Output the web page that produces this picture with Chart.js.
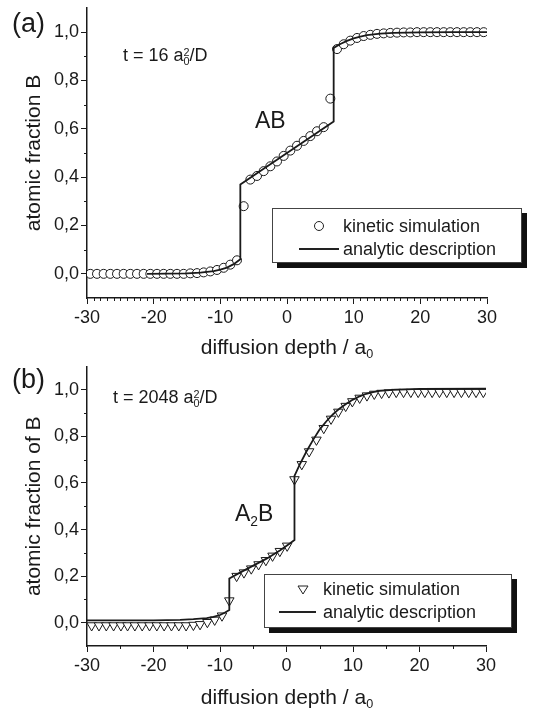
<!DOCTYPE html>
<html>
<head>
<meta charset="utf-8">
<script src="https://cdn.jsdelivr.net/npm/chart.js@4"></script>
<style>
body { margin:0; background:#fff; }
#wrap { position:relative; width:545px; height:712px; font-family:"Liberation Sans", Arial, sans-serif; color:#1a1a1a; overflow:hidden; }
canvas { position:absolute; left:0; }
.lbl { position:absolute; line-height:1; white-space:nowrap; }
.lbl sub, .lbl sup { font-size:0.6em; line-height:0; }
.lbl sub { vertical-align:-0.35em; }
.lbl sup { vertical-align:0.5em; }
.lbl sup.stk { margin-left:-0.556em; }
.xt { width:400px; text-align:center; font-size:21px; }
.leg { position:absolute; background:#fff; border:1px solid #444; box-shadow:5px 5px 0 #111; box-sizing:border-box; }
.leg .txt { position:absolute; font-size:18px; line-height:1; white-space:nowrap; }
.leg svg { position:absolute; left:0; top:0; overflow:visible; }
</style>
</head>
<body>
<div id="wrap">
  <canvas id="chartA" width="545" height="360" style="top:0"></canvas>
  <canvas id="chartB" width="545" height="352" style="top:360px"></canvas>

  <div class="lbl" style="left:12px;top:10px;font-size:27px">(a)</div>
  <div class="lbl" style="left:123px;top:46px;font-size:18px">t = 16 a<sub>0</sub><sup class="stk">2</sup>/D</div>
  <div class="lbl" style="left:255px;top:109px;font-size:23px">AB</div>
  <div class="lbl xt" style="left:87px;top:336px">diffusion depth / a<sub>0</sub></div>

  <div class="lbl" style="left:12px;top:366px;font-size:27px">(b)</div>
  <div class="lbl" style="left:113px;top:388px;font-size:18px">t = 2048 a<sub>0</sub><sup class="stk">2</sup>/D</div>
  <div class="lbl" style="left:235px;top:502px;font-size:23px">A<sub>2</sub>B</div>
  <div class="lbl xt" style="left:87px;top:686px">diffusion depth / a<sub>0</sub></div>

  <div class="leg" style="left:272px;top:208px;width:250px;height:55px">
    <svg width="250" height="55">
      <circle cx="46" cy="17" r="4.5" fill="#fff" stroke="#222" stroke-width="1"></circle>
      <line x1="26" y1="40" x2="66" y2="40" stroke="#222" stroke-width="1.8"></line>
    </svg>
    <div class="txt" style="left:70px;top:8px">kinetic simulation</div>
    <div class="txt" style="left:70px;top:31px">analytic description</div>
  </div>

  <div class="leg" style="left:264px;top:574px;width:248px;height:54px">
    <svg width="248" height="54">
      <polygon points="33,11 43,11 38,19" fill="#fff" stroke="#222" stroke-width="1"></polygon>
      <line x1="14" y1="37" x2="51" y2="37" stroke="#222" stroke-width="1.8"></line>
    </svg>
    <div class="txt" style="left:58px;top:5px">kinetic simulation</div>
    <div class="txt" style="left:58px;top:28px">analytic description</div>
  </div>
</div>

<script>
// axis ticks
const xTicks = [-30, -20, -10, 0, 10, 20, 30];
const xTickLabels = ['-30', '-20', '-10', '0', '10', '20', '30'];
const yTicks = [0, 0.2, 0.4, 0.6, 0.8, 1.0];
const yTickLabels = ['0,0', '0,2', '0,4', '0,6', '0,8', '1,0'];

// (a) t = 16 a0^2/D, AB phase
const simAx = [-29.5,-28.5,-27.5,-26.5,-25.5,-24.5,-23.5,-22.5,-21.5,-20.5,-19.5,-18.5,-17.5,-16.5,-15.5,
  -14.5,-13.5,-12.5,-11.5,-10.5,-9.5,-8.5,-7.5,-6.5,-5.5,-4.5,-3.5,-2.5,-1.5,-0.5,
  0.5,1.5,2.5,3.5,4.5,5.5,6.5,7.5,8.5,9.5,10.5,11.5,12.5,13.5,14.5,15.5,16.5,
  17.5,18.5,19.5,20.5,21.5,22.5,23.5,24.5,25.5,26.5,27.5,28.5,29.5];
const simAy = [0,0,0,0,0,0,0,0,0,0,0,0,0,0,0,
  0.002,0.003,0.006,0.010,0.016,0.025,0.038,0.056,0.28,0.39,0.405,0.425,0.445,0.465,0.488,
  0.51,0.53,0.55,0.57,0.59,0.607,0.725,0.93,0.95,0.965,0.976,0.984,0.989,0.993,0.995,0.997,0.998,
  0.999,0.999,1,1,1,1,1,1,1,1,1,1,1];
const lineAx = [-21, -18, -15, -13, -11, -10, -9, -8, -7, -7, 7, 7, 8, 9, 10, 11, 12, 14, 16, 20, 25, 30];
const lineAy = [0, 0.001, 0.002, 0.005, 0.011, 0.017, 0.026, 0.04, 0.06, 0.37, 0.63, 0.935, 0.951, 0.964, 0.974, 0.982, 0.988, 0.994, 0.997, 0.999, 1, 1];

// (b) t = 2048 a0^2/D, A2B phase
const simBx = [-29.3,-28.2,-27.1,-26.0,-24.9,-23.9,-22.8,-21.7,-20.6,-19.5,-18.4,-17.3,-16.2,-15.1,
  -14.0,-13.0,-11.9,-10.8,-9.7,-8.6,
  -7.5,-6.4,-5.3,-4.2,-3.1,-2.1,-1.0,0.1,
  1.2,2.3,3.4,4.5,5.6,6.7,7.8,8.9,9.9,11.0,12.1,13.2,14.3,15.4,
  16.5,17.6,18.7,19.8,20.8,21.9,23.0,24.1,25.2,26.3,27.4,28.5,29.6];
const simBy = [-0.012,-0.012,-0.012,-0.012,-0.012,-0.012,-0.012,-0.012,-0.012,-0.012,-0.012,-0.012,-0.012,-0.012,
  -0.01,-0.007,0.002,0.012,0.03,0.095,
  0.2,0.215,0.232,0.25,0.268,0.287,0.307,0.33,
  0.615,0.68,0.735,0.785,0.835,0.875,0.905,0.93,0.95,0.965,0.975,0.982,0.986,0.988,
  0.99,0.99,0.99,0.99,0.99,0.99,0.99,0.99,0.99,0.99,0.99,0.99,0.99];
const lineBx = [-30, -20, -16, -14, -12, -11, -10, -9.3, -8.6, -8.6, -7, -5, -3, -1, 0.5, 1.2, 1.2, 2, 3, 4, 5, 6, 7, 8, 9, 10, 11, 12, 13, 14, 16, 20, 30];
const lineBy = [0.01, 0.01, 0.012, 0.015, 0.02, 0.025, 0.033, 0.043, 0.055, 0.19, 0.215, 0.245, 0.275, 0.31, 0.34, 0.355, 0.63, 0.68, 0.735, 0.785, 0.83, 0.865, 0.895, 0.92, 0.94, 0.958, 0.972, 0.983, 0.99, 0.995, 1.0, 1.004, 1.005];

const ink = '#1a1a1a';
const fam = '"Liberation Sans", Arial, sans-serif';

const pts = (xs, ys) => xs.map((x, i) => ({x: x, y: ys[i]}));

// small ticks between the labelled ones
const minorTicks = {
  id: 'minorTicks',
  afterDraw(chart, args, opts) {
    const ctx = chart.ctx, sx = chart.scales.x, sy = chart.scales.y;
    ctx.save();
    ctx.strokeStyle = ink;
    ctx.lineWidth = 1;
    ctx.beginPath();
    for (let v = -30; v <= 30; v += opts.xStep) {
      if (v % 10 === 0) continue;
      const px = Math.round(sx.getPixelForValue(v)) + 0.5;
      ctx.moveTo(px, sx.top);
      ctx.lineTo(px, sx.top + 3);
    }
    for (let k = 1; k <= 9; k += 2) {
      const py = Math.round(sy.getPixelForValue(k / 10)) + 0.5;
      ctx.moveTo(sy.right, py);
      ctx.lineTo(sy.right - 3, py);
    }
    ctx.stroke();
    ctx.restore();
  }
};

function makeChart(id, simX, simY, lineX, lineY, pointStyle, radius, rot, yTitle, xStep, pad) {
  return new Chart(document.getElementById(id), {
    type: 'scatter',
    data: {
      datasets: [
        {
          label: 'analytic description',
          data: pts(lineX, lineY),
          showLine: true,
          borderColor: ink,
          borderWidth: 1.8,
          pointRadius: 0,
          tension: 0,
          order: 0
        },
        {
          label: 'kinetic simulation',
          data: pts(simX, simY),
          showLine: false,
          pointStyle: pointStyle,
          pointRadius: radius,
          rotation: rot,
          backgroundColor: '#fff',
          borderColor: ink,
          borderWidth: 1,
          order: 1
        }
      ]
    },
    options: {
      responsive: false,
      animation: false,
      devicePixelRatio: 1,
      layout: { padding: pad },
      plugins: {
        legend: { display: false },
        tooltip: { enabled: false },
        minorTicks: { xStep: xStep }
      },
      scales: {
        x: {
          type: 'linear',
          min: -30,
          max: 30,
          afterBuildTicks: s => { s.ticks = xTicks.map(v => ({value: v})) },
          afterFit: s => { s.height = 40 },
          ticks: {
            callback: v => xTickLabels[xTicks.indexOf(v)],
            color: ink,
            font: { family: fam, size: 18 },
            padding: 3,
            maxRotation: 0,
            autoSkip: false
          },
          grid: { drawOnChartArea: false, tickLength: 6, tickColor: ink, tickWidth: 1 },
          border: { color: ink, width: 1.5 }
        },
        y: {
          type: 'linear',
          min: -0.1,
          max: 1.1,
          afterBuildTicks: s => { s.ticks = yTicks.map(v => ({value: v})) },
          afterFit: s => { s.width = 87; s.paddingTop = 0; s.paddingBottom = 0 },
          ticks: {
            callback: v => yTickLabels[yTicks.indexOf(v)],
            color: ink,
            font: { family: fam, size: 18 },
            padding: 2
          },
          title: {
            display: true,
            text: yTitle,
            color: ink,
            font: { family: fam, size: 21 },
            padding: { top: 22, bottom: 0 }
          },
          grid: { drawOnChartArea: false, tickLength: 6, tickColor: ink, tickWidth: 1 },
          border: { color: ink, width: 1.5 }
        }
      }
    },
    plugins: [minorTicks]
  });
}

makeChart('chartA', simAx, simAy, lineAx, lineAy, 'circle', 4.5, 0, 'atomic fraction B', 1,
  { top: 8, right: 58, bottom: 22, left: 0 });
makeChart('chartB', simBx, simBy, lineBx, lineBy, 'triangle', 5.5, 180, 'atomic fraction of B', 5,
  { top: 0, right: 59, bottom: 26, left: 0 });
</script>
</body>
</html>
